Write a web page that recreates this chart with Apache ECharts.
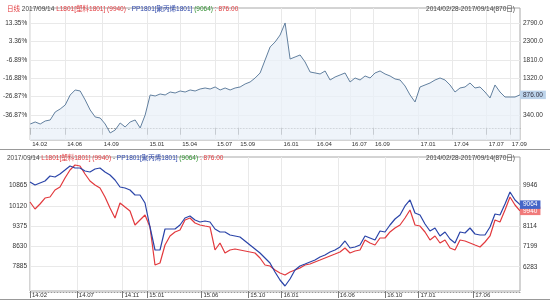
<!DOCTYPE html>
<html>
<head>
<meta charset="utf-8">
<script src="https://cdn.jsdelivr.net/npm/echarts@6/dist/echarts.min.js"></script>
<style>
html, body { margin: 0; padding: 0; background: #fff; }
#chart { width: 550px; height: 300px; }
</style>
</head>
<body>
<div id="chart"></div>
<script>
// 870 trading days, 2014/02/28 - 2017/09/14, sampled evenly
const dayCount = 870;

// L1801 - PP1801 spread
const spreadVals = [100, 154, 100, 180, 207, 420, 500, 606, 873, 1006,
  979, 740, 473, 287, 260, 100, -139, -59, 127, 21,
  154, 207, -6, 340, 873, 846, 899, 873, 952, 926,
  979, 952, 1006, 979, 1032, 1059, 1032, 1086, 1006, 1059,
  1006, 1059, 1086, 1166, 1219, 1325, 1459, 1805, 2151, 2284,
  2470, 2790, 1831, 1885, 1938, 1751, 1485, 1459, 1432, 1512,
  1272, 1352, 1405, 1459, 1219, 1325, 1272, 1379, 1325, 1459,
  1512, 1432, 1379, 1299, 1272, 1112, 873, 686, 1086, 1139,
  1192, 1272, 1325, 1272, 1139, 952, 1059, 1086, 1192, 1059,
  1086, 952, 793, 1139, 952, 819, 819, 819, 876];
// L1801 (left axis, red)
const lVals = [10265, 10008, 10192, 10412, 10449, 10707, 10817, 11148, 11443, 11627,
  11590, 11295, 11038, 10891, 10780, 10449, 10045, 9677, 10229, 10081,
  9934, 9419, 9603, 9787, 9346, 7948, 8021, 8683, 9015, 9162,
  9235, 9603, 9677, 9493, 9419, 9382, 9346, 8500, 8757, 8389,
  8500, 8536, 8500, 8463, 8426, 8389, 8205, 7948, 7911, 7763,
  7653, 7580, 7690, 7763, 7837, 7948, 7984, 8058, 8131, 8205,
  8279, 8352, 8426, 8573, 8389, 8463, 8500, 8868, 8757, 8683,
  8941, 8941, 9162, 9309, 9419, 9677, 9971, 9419, 9382, 9162,
  8868, 9015, 8757, 8868, 8573, 8500, 8868, 8831, 8757, 8683,
  8610, 8794, 9015, 9603, 9529, 9971, 10449, 10155, 9940];
// PP1801 (right axis, blue)
const ppVals = [10080, 9946, 10036, 10125, 10349, 10305, 10439, 10618, 10798, 10708,
  10708, 10574, 10529, 10663, 10708, 10529, 10394, 10170, 9856, 9812,
  9722, 9498, 9498, 9139, 8063, 7032, 7032, 7973, 7973, 7973,
  8153, 8467, 8556, 8377, 8287, 8332, 8287, 7973, 7839, 7839,
  7704, 7660, 7615, 7436, 7256, 7077, 6898, 6674, 6450, 6046,
  5687, 5418, 5732, 6135, 6315, 6404, 6494, 6584, 6718, 6808,
  6942, 7032, 7167, 7436, 7122, 7167, 7256, 7660, 7570, 7480,
  7884, 7839, 8153, 8422, 8601, 9005, 9274, 8691, 8601, 8198,
  7884, 8018, 7660, 7839, 7525, 7346, 7839, 7794, 8018, 7749,
  7704, 7704, 8063, 8646, 8601, 9094, 9632, 9274, 9064];

const topTickDays = [0, 62, 127, 208, 266, 328, 369, 446, 505, 567, 608, 689, 748, 810, 851];
const topTickLabels = ['14.02', '14.06', '14.09', '15.01', '15.04', '15.07', '15.09', '16.01', '16.04', '16.07', '16.09', '17.01', '17.04', '17.07', '17.09'];
const bottomTickDays = [0, 83, 164, 208, 304, 387, 446, 546, 630, 689, 786];
const bottomTickLabels = ['14.02', '14.07', '14.11', '15.01', '15.06', '15.10', '16.01', '16.06', '16.10', '17.01', '17.06'];

const spreadTicks = [340, 830, 1320, 1810, 2300, 2790];
const spreadTickLabels = ['340.00', '830.00', '1320.0', '1810.0', '2300.0', '2790.0'];
const pctTickLabels = ['-36.87%', '-26.87%', '-16.88%', '-6.89%', '3.36%', '13.35%'];
const lTicks = [7885, 8630, 9375, 10120, 10865];
const ppTicks = [6283, 7199, 8114, 9030, 9946];

const headerDate = '2017/09/14';
const rangeText = '2014/02/28-2017/09/14(870日)';

const RED = '#e2393d';
const BLUE = '#2a44a8';
const GRID = '#e9e9e9';
const FONT = 'Liberation Sans, Noto Sans CJK SC, sans-serif';

function toPairs(vals) {
  const step = (dayCount - 1) / (vals.length - 1);
  return vals.map((v, i) => [i * step, v]);
}
const last = (a) => a[a.length - 1];

function dayAxis(gridIndex, days, labels) {
  return {
    type: 'value', gridIndex, min: 0, max: dayCount - 1,
    axisLine: { show: false },
    axisTick: { show: true, customValues: days, length: 7, lineStyle: { color: '#777' } },
    axisLabel: {
      customValues: days, formatter: (v) => labels[days.indexOf(v)] ?? '',
      align: 'left', margin: 1, padding: [0, 0, 0, 2], fontSize: 6, color: '#333', fontFamily: FONT,
    },
    splitLine: { show: true, lineStyle: { color: GRID, width: 1 } },
  };
}
function dotAxis(gridIndex) {
  return {
    type: 'value', gridIndex, min: 0, max: dayCount - 1, position: 'bottom', offset: 1,
    axisLine: { show: true, lineStyle: { color: '#999', type: [1, 2] } },
    axisTick: { show: false }, axisLabel: { show: false }, splitLine: { show: false },
  };
}
function valAxis(gridIndex, pos, min, max, ticks, labels, split) {
  return {
    type: 'value', gridIndex, position: pos, min, max,
    axisLine: { show: false },
    axisTick: { show: false, customValues: ticks },
    axisLabel: {
      customValues: ticks, formatter: (v) => labels[ticks.indexOf(v)] ?? '',
      fontSize: 6.5, color: '#333', margin: 3, fontFamily: FONT,
    },
    splitLine: { show: split, lineStyle: { color: GRID } },
  };
}
function endTag(value, text, bg, color) {
  return {
    symbol: 'none', silent: true, animation: false,
    lineStyle: { color: 'rgba(0,0,0,0)', width: 0 },
    label: {
      show: true, position: 'end', distance: 0, formatter: text, backgroundColor: bg, color,
      fontSize: 6.5, fontFamily: FONT, padding: [1, 3, 1, 3],
    },
    data: [{ yAxis: value }],
  };
}
function header(top, withTag) {
  return {
    left: 2, top,
    text: (withTag ? '{r|日线} ' : '') + `{d|${headerDate}} {r|L1801[塑料1801] (${last(lVals)})} {d|-} {b|PP1801[聚丙烯1801]} {g|(${last(ppVals)})} {r|: ${last(spreadVals).toFixed(2)}}`,
    textStyle: {
      fontSize: 6.5, fontFamily: FONT, fontWeight: 'normal',
      rich: {
        r: { color: RED, fontSize: 6.5, fontFamily: FONT },
        d: { color: '#444', fontSize: 6.5, fontFamily: FONT },
        b: { color: BLUE, fontSize: 6.5, fontFamily: FONT },
        g: { color: '#2f8f2f', fontSize: 6.5, fontFamily: FONT },
      },
    },
  };
}
function rangeTitle(top) {
  return { right: 30, top, text: rangeText, textStyle: { fontSize: 6.5, color: '#444', fontWeight: 'normal', fontFamily: FONT } };
}

const chart = echarts.init(document.getElementById('chart'), null, { renderer: 'canvas' });

chart.setOption({
  animation: false,
  backgroundColor: '#fff',
  title: [header(1, true), rangeTitle(1), header(150, false), rangeTitle(150)],
  grid: [
    { left: 30, right: 30, top: 8, height: 132, show: true, borderColor: '#a8a8a8', borderWidth: 1 },
    { left: 30, right: 30, top: 157, height: 134, show: true, borderColor: '#a8a8a8', borderWidth: 1 },
  ],
  xAxis: [
    dayAxis(0, topTickDays, topTickLabels), dotAxis(0),
    dayAxis(1, bottomTickDays, bottomTickLabels), dotAxis(1),
  ],
  yAxis: [
    valAxis(0, 'left', -326, 3189, spreadTicks, pctTickLabels, true),
    valAxis(0, 'right', -326, 3189, spreadTicks, spreadTickLabels, false),
    valAxis(1, 'left', 6991, 11921, lTicks, lTicks.map(String), true),
    valAxis(1, 'right', 5194, 11201, ppTicks, ppTicks.map(String), false),
  ],
  series: [
    {
      name: 'spread', type: 'line', xAxisIndex: 0, yAxisIndex: 1, data: toPairs(spreadVals),
      symbol: 'none', lineStyle: { color: '#62809f', width: 1 },
      areaStyle: { color: '#e8f0f8', origin: 'start' },
      markLine: endTag(last(spreadVals), last(spreadVals).toFixed(2), '#bcd3ea', '#334'),
    },
    {
      name: 'L1801', type: 'line', xAxisIndex: 2, yAxisIndex: 2, data: toPairs(lVals),
      symbol: 'none', lineStyle: { color: RED, width: 1.2 },
      markLine: endTag(last(lVals), String(last(lVals)), '#f07a7a', '#fff'),
    },
    {
      name: 'PP1801', type: 'line', xAxisIndex: 2, yAxisIndex: 3, data: toPairs(ppVals),
      symbol: 'none', lineStyle: { color: BLUE, width: 1.2 },
      markLine: endTag(last(ppVals), String(last(ppVals)), '#4565c8', '#fff'),
    },
  ],
  graphic: [
    { type: 'line', shape: { x1: 0, y1: 149.5, x2: 550, y2: 149.5 }, style: { stroke: '#999', lineWidth: 1 } },
    { type: 'line', shape: { x1: 0, y1: 299.5, x2: 550, y2: 299.5 }, style: { stroke: '#999', lineWidth: 1 } },
  ],
});
</script>
</body>
</html>
